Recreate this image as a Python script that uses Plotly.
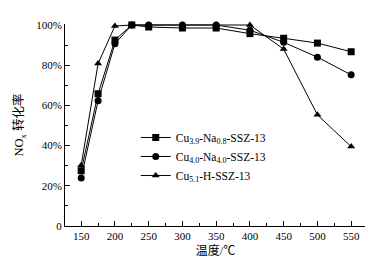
import plotly.graph_objects as go

temps = [150, 175, 200, 225, 250, 300, 350, 400, 450, 500, 550]
s1_name = "Cu<sub>3.9</sub>-Na<sub>0.8</sub>-SSZ-13"
s1 = [27.5, 65.8, 92.5, 100, 99, 98.5, 98.5, 95.7, 93.4, 91, 86.7]
s2_name = "Cu<sub>4.0</sub>-Na<sub>4.0</sub>-SSZ-13"
s2 = [23.9, 62.3, 90.7, 100, 100, 100, 100, 97.4, 91.4, 84, 75.2]
s3_name = "Cu<sub>5.1</sub>-H-SSZ-13"
s3 = [30.2, 80.8, 99.5, 100, 100, 100, 100, 100, 88, 55.3, 39.5]

yticks = [0, 20, 40, 60, 80, 100]
ytext = ["0", "20%", "40%", "60%", "80%", "100%"]
xticks = [150, 200, 250, 300, 350, 400, 450, 500, 550]

font = "Liberation Serif"
cjk = "Liberation Serif, Noto Sans CJK SC"

fig = go.Figure()
for name, ys, sym in [(s1_name, s1, "square"), (s2_name, s2, "circle"), (s3_name, s3, "triangle-up")]:
    fig.add_trace(go.Scatter(
        x=temps, y=ys, name=name, mode="lines+markers",
        line=dict(color="black", width=1),
        marker=dict(symbol=sym, size=7, color="black"),
        cliponaxis=False,
    ))

fig.update_layout(
    width=373, height=259,
    margin=dict(l=57, r=15, t=16, b=41),
    paper_bgcolor="white", plot_bgcolor="white",
    font=dict(family=font, size=11, color="black"),
    showlegend=True,
    legend=dict(x=0.235, y=0.51, xanchor="left", yanchor="top",
                bgcolor="rgba(0,0,0,0)", font=dict(size=11.5, family=font),
                itemwidth=30, tracegroupgap=0),
    xaxis=dict(range=[126, 572], tickvals=xticks, ticks="inside", ticklen=5,
               showline=True, linecolor="black", linewidth=1, showgrid=False, zeroline=False,
               automargin=False,
               minor=dict(tickvals=[175, 225, 275, 325, 375, 425, 475, 525], ticks="inside", ticklen=3, tickcolor="black"),
               tickcolor="black", tickfont=dict(family=font, size=11),
               title=dict(text="温度/℃", font=dict(size=12, family=cjk), standoff=5)),
    yaxis=dict(range=[0, 100.5], tickvals=yticks, ticktext=ytext, ticks="inside", ticklen=5,
               showline=True, linecolor="black", linewidth=1, showgrid=False, zeroline=False,
               automargin=False,
               minor=dict(tickvals=[10, 30, 50, 70, 90], ticks="inside", ticklen=3, tickcolor="black"),
               tickcolor="black", tickfont=dict(family=font, size=11),
               title=dict(text="NO<sub>x</sub> 转化率", font=dict(size=12.5, family=cjk), standoff=9)),
)

fig.write_html("out.html")
